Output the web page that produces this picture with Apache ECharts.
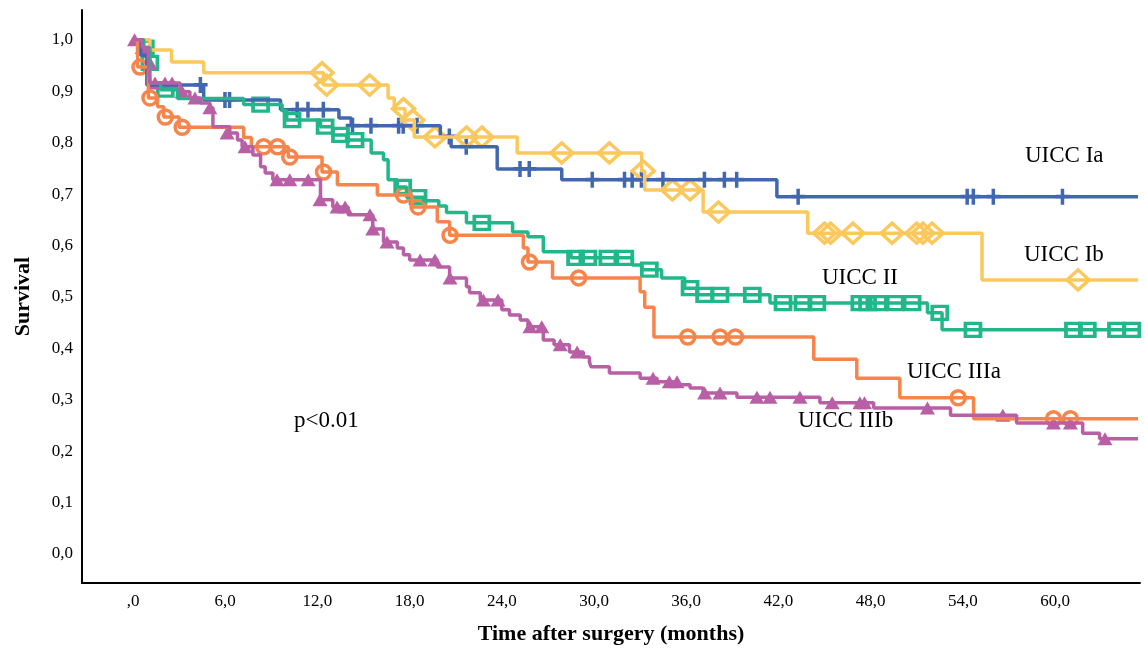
<!DOCTYPE html>
<html>
<head>
	<meta charset="utf-8">
	<title>Survival by UICC stage</title>
	<script src="https://cdn.jsdelivr.net/npm/echarts@6/dist/echarts.min.js"></script>
	<style>
		html, body { margin: 0; padding: 0; background: #fff; }
		#main { width: 1145px; height: 650px; }
	</style>
</head>
<body>
<div id="main"></div>
<script type="text/javascript">
// tick labels
var xTicks = [0, 6, 12, 18, 24, 30, 36, 42, 48, 54, 60];
var yTicks = [0, 0.1, 0.2, 0.3, 0.4, 0.5, 0.6, 0.7, 0.8, 0.9, 1.0];

// Kaplan-Meier steps [month, survival] and censored cases
var iaSteps = [[0,1],[0.5,0.97],[0.9,0.912],[4.6,0.883],[9.6,0.864],[13.4,0.848],[14.2,0.833],[20.0,0.812],[20.7,0.792],[23.7,0.749],[27.9,0.728],[41.9,0.695],[65.4,0.695]];
var iaCensored = [[4.4,0.912],[6.0,0.883],[6.3,0.883],[10.7,0.864],[11.4,0.864],[12.4,0.864],[14.3,0.833],[15.5,0.833],[17.3,0.833],[17.6,0.833],[18.5,0.833],[20.6,0.812],[21.7,0.792],[25.2,0.749],[25.8,0.749],[29.9,0.728],[32.0,0.728],[32.5,0.728],[33.1,0.728],[34.5,0.728],[37.2,0.728],[38.5,0.728],[39.3,0.728],[43.3,0.695],[54.3,0.695],[54.7,0.695],[56.0,0.695],[60.5,0.695]];

var ibSteps = [[0,1],[1.1,0.98],[2.5,0.957],[4.6,0.936],[12.4,0.912],[16.6,0.887],[17.0,0.866],[17.7,0.844],[18.3,0.811],[25.0,0.78],[33.1,0.745],[33.3,0.708],[37.1,0.665],[43.9,0.624],[55.25,0.533],[65.4,0.533]];
var ibCensored = [[12.3,0.936],[12.6,0.912],[15.4,0.912],[17.6,0.866],[18.2,0.844],[19.65,0.811],[21.7,0.811],[22.7,0.811],[27.9,0.78],[31.0,0.78],[33.2,0.745],[35.1,0.708],[36.25,0.708],[38.1,0.665],[45.0,0.624],[45.4,0.624],[46.85,0.624],[49.4,0.624],[51.0,0.624],[51.4,0.624],[52.0,0.624],[61.5,0.533]];

var iiSteps = [[0,1],[0.7,0.985],[1.1,0.916],[1.8,0.903],[2.9,0.886],[7.2,0.874],[9.7,0.862],[10.0,0.844],[12.2,0.831],[13.0,0.815],[13.9,0.805],[15.5,0.78],[16.3,0.767],[16.6,0.728],[17.2,0.714],[17.8,0.694],[18.9,0.687],[19.9,0.677],[20.4,0.664],[21.7,0.644],[24.7,0.626],[25.7,0.617],[26.7,0.588],[28.5,0.576],[32.5,0.562],[33.1,0.553],[34.4,0.537],[35.9,0.517],[36.7,0.504],[41.45,0.488],[51.7,0.469],[52.65,0.436],[65.4,0.436]];
var iiCensored = [[0.8,0.985],[1.1,0.955],[2.1,0.903],[8.3,0.874],[10.35,0.844],[12.5,0.831],[13.5,0.815],[14.45,0.805],[17.55,0.714],[18.55,0.694],[22.7,0.644],[28.8,0.576],[29.6,0.576],[30.9,0.576],[32.0,0.576],[33.6,0.553],[36.25,0.517],[37.2,0.504],[38.2,0.504],[40.3,0.504],[42.3,0.488],[43.6,0.488],[44.5,0.488],[47.3,0.488],[47.8,0.488],[48.5,0.488],[49.6,0.488],[50.7,0.488],[52.5,0.469],[54.66,0.436],[61.2,0.436],[62.1,0.436],[64.0,0.436],[65.0,0.436]];

var iiiaSteps = [[0,1],[0.3,0.947],[1.0,0.887],[1.6,0.87],[2.0,0.85],[3.0,0.83],[7.2,0.81],[7.7,0.792],[10.1,0.772],[12.3,0.743],[13.3,0.718],[15.9,0.698],[18.15,0.675],[19.8,0.646],[20.6,0.62],[25.4,0.595],[25.7,0.568],[27.3,0.537],[33.0,0.51],[33.3,0.48],[33.9,0.422],[44.3,0.379],[47.1,0.342],[49.9,0.304],[54.7,0.263],[65.4,0.263]];
var iiiaCensored = [[0.45,0.947],[1.1,0.887],[2.1,0.85],[3.2,0.83],[8.5,0.792],[9.4,0.792],[10.2,0.772],[12.4,0.743],[17.6,0.698],[18.55,0.675],[20.63,0.62],[25.8,0.568],[29.0,0.537],[36.1,0.422],[38.2,0.422],[39.2,0.422],[53.7,0.304],[59.9,0.263],[61.0,0.263]];

var iiibSteps = [[0,1],[0.6,0.985],[1.0,0.955],[1.1,0.916],[3.06,0.899],[3.7,0.887],[4.4,0.877],[5.0,0.868],[5.2,0.831],[6.3,0.819],[6.8,0.805],[7.1,0.792],[7.8,0.776],[8.3,0.753],[8.6,0.741],[9.1,0.728],[12.2,0.689],[13.0,0.675],[14.0,0.66],[15.6,0.632],[16.3,0.607],[17.2,0.595],[17.6,0.582],[18.0,0.572],[19.8,0.558],[20.6,0.537],[21.7,0.52],[21.9,0.508],[22.6,0.494],[24.0,0.475],[24.5,0.465],[25.2,0.455],[25.7,0.442],[26.7,0.416],[27.4,0.407],[28.4,0.393],[29.3,0.383],[29.7,0.374],[29.8,0.364],[31.0,0.352],[33.0,0.342],[34.1,0.335],[35.4,0.329],[36.25,0.323],[37.1,0.313],[39.3,0.305],[44.7,0.294],[48.2,0.284],[53.2,0.27],[57.5,0.255],[61.8,0.235],[62.9,0.224],[65.4,0.224]];
var iiibCensored = [[0.1,1.0],[0.6,0.985],[1.1,0.955],[1.43,0.916],[2.08,0.916],[2.54,0.916],[3.2,0.899],[4.03,0.887],[5.0,0.868],[6.12,0.819],[7.29,0.792],[9.37,0.728],[10.2,0.728],[11.4,0.728],[12.17,0.689],[13.28,0.675],[13.8,0.675],[15.42,0.66],[15.6,0.632],[16.53,0.607],[18.68,0.572],[19.65,0.572],[20.63,0.537],[22.8,0.494],[23.75,0.494],[25.83,0.442],[26.6,0.442],[27.8,0.407],[28.9,0.393],[33.84,0.342],[34.9,0.335],[35.4,0.335],[37.2,0.313],[38.2,0.313],[40.6,0.305],[41.45,0.305],[43.4,0.305],[45.5,0.294],[47.3,0.294],[47.6,0.294],[51.7,0.284],[56.6,0.27],[59.9,0.255],[61.0,0.255],[63.25,0.224]];

var serif = '"Liberation Serif", "DejaVu Serif", serif';

function curve(name, data, color) {
    return {
        name: name,
        type: 'line',
        step: 'end',
        data: data,
        showSymbol: false,
        silent: true,
        lineStyle: { color: color, width: 3.5 },
        itemStyle: { color: color }
    };
}

function marks(name, data, color, symbol, size, filled) {
    return {
        name: name,
        type: 'scatter',
        data: data,
        symbol: symbol,
        symbolSize: size,
        silent: true,
        itemStyle: filled
            ? { color: color, opacity: 1 }
            : { color: 'rgba(255,255,255,0)', borderColor: color, borderWidth: 3.5, opacity: 1 }
    };
}

var blue = '#4267b1', yellow = '#fbc85e', green = '#22b78b', orange = '#f5854b', purple = '#b85fa6';
var plus = 'path://M5,0h3.5v6h5.5v3.5h-5.5v6.5h-3.5v-6.5h-5v-3.5h5z';

function label(text, x, y) {
    return {
        type: 'text', x: x, y: y, silent: true,
        style: { text: text, font: '23px ' + serif, fill: '#000', verticalAlign: 'middle' }
    };
}

var myChart = echarts.init(document.getElementById('main'));

var option = {
    animation: false,
    backgroundColor: '#fff',
    grid: { left: 82, right: 5, top: 10, bottom: 67, containLabel: false, outerBoundsMode: 'none' },
    xAxis: {
        type: 'value',
        min: -3.32,
        max: 65.53,
        name: 'Time after surgery (months)',
        nameLocation: 'middle',
        nameGap: 40,
        nameTextStyle: { fontFamily: serif, fontWeight: 'bold', fontSize: 22, color: '#000' },
        axisLine: { show: true, onZero: false, lineStyle: { color: '#000', width: 2 } },
        axisTick: { show: false },
        splitLine: { show: false },
        axisLabel: {
            customValues: xTicks,
            margin: 10,
            fontFamily: serif, fontSize: 17, color: '#000',
            formatter: function (v) { return v === 0 ? ',0' : v.toFixed(1).replace('.', ','); }
        }
    },
    yAxis: {
        type: 'value',
        min: -0.0564,
        max: 1.058,
        name: 'Survival',
        nameLocation: 'middle',
        nameGap: 48,
        nameTextStyle: { fontFamily: serif, fontWeight: 'bold', fontSize: 22, color: '#000' },
        axisLine: { show: true, onZero: false, lineStyle: { color: '#000', width: 2 } },
        axisTick: { show: false },
        splitLine: { show: false },
        axisLabel: {
            customValues: yTicks,
            margin: 9,
            fontFamily: serif, fontSize: 17, color: '#000',
            formatter: function (v) { return v.toFixed(1).replace('.', ','); }
        }
    },
    series: [
        curve('UICC Ia', iaSteps, blue),
        curve('UICC Ib', ibSteps, yellow),
        curve('UICC II', iiSteps, green),
        curve('UICC IIIa', iiiaSteps, orange),
        curve('UICC IIIb', iiibSteps, purple),
        marks('UICC Ia censored', iaCensored, blue, plus, [14, 16], true),
        marks('UICC Ib censored', ibCensored, yellow, 'diamond', [22, 20], false),
        marks('UICC II censored', iiCensored, green, 'rect', [15, 13], false),
        marks('UICC IIIa censored', iiiaCensored, orange, 'circle', 14, false),
        marks('UICC IIIb censored', iiibCensored, purple, 'triangle', [15, 13], true)
    ],
    graphic: [
        label('UICC Ia', 1025, 156),
        label('UICC Ib', 1024, 255),
        label('UICC II', 822, 278),
        label('UICC IIIa', 907, 372),
        label('UICC IIIb', 798, 421),
        label('p<0.01', 294, 421)
    ]
};

myChart.setOption(option);
</script>
</body>
</html>
